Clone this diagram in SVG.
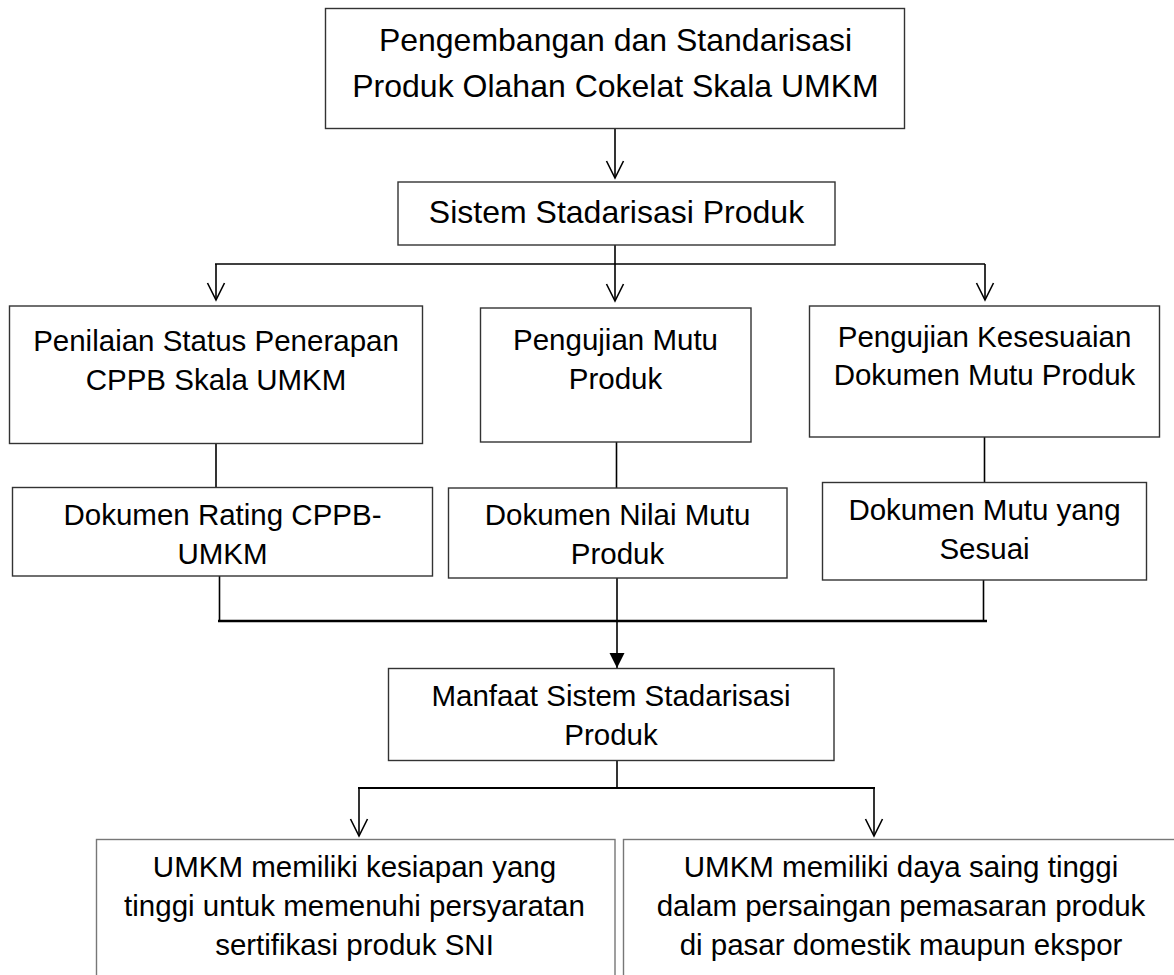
<svg xmlns="http://www.w3.org/2000/svg" width="1174" height="975" viewBox="0 0 1174 975">
<style>
.box{fill:#fff;stroke:#333;stroke-width:1.4}
.box2{fill:#fff;stroke:#777;stroke-width:1.4}
.t{font-family:"Liberation Sans",Arial,sans-serif;fill:#000;text-anchor:middle}
.big{font-size:32px}
.mid{font-size:29.5px}
.ln{fill:none;stroke:#000;stroke-width:1.6}
.thick{fill:none;stroke:#000;stroke-width:2.5}
</style>
<defs>
<marker id="open" markerUnits="userSpaceOnUse" orient="auto" refX="0" refY="0" markerWidth="40" markerHeight="40" overflow="visible">
<path d="M-17,-8.5 L0,0 L-17,8.5" fill="none" stroke="#000" stroke-width="1.6"/>
</marker>
<marker id="fill" markerUnits="userSpaceOnUse" orient="auto" refX="0" refY="0" markerWidth="40" markerHeight="40" overflow="visible">
<path d="M-15,-7.5 L0,0 L-15,7.5 Z" fill="#000" stroke="none"/>
</marker>
</defs>
<rect width="1174" height="975" fill="#fff"/>
<g id="connectors">
<line class="ln" x1="615" y1="128" x2="615" y2="178" marker-end="url(#open)"/>
<line class="ln" x1="615" y1="245" x2="615" y2="264"/>
<line class="ln" x1="215" y1="264" x2="985" y2="264"/>
<line class="ln" x1="216" y1="264" x2="216" y2="300" marker-end="url(#open)"/>
<line class="ln" x1="615" y1="264" x2="615" y2="301" marker-end="url(#open)"/>
<line class="ln" x1="985" y1="264" x2="985" y2="300" marker-end="url(#open)"/>
<line class="ln" x1="216" y1="443" x2="216" y2="487"/>
<line class="ln" x1="616.5" y1="442" x2="616.5" y2="488"/>
<line class="ln" x1="984.5" y1="437" x2="984.5" y2="482"/>
<line class="ln" x1="219.5" y1="576" x2="219.5" y2="621"/>
<line class="ln" x1="983.5" y1="580" x2="983.5" y2="621"/>
<line class="thick" x1="218" y1="621" x2="987" y2="621"/>
<line class="ln" x1="617" y1="578" x2="617" y2="668" marker-end="url(#fill)"/>
<line class="ln" x1="617" y1="761" x2="617" y2="788"/>
<line class="thick" x1="358" y1="788" x2="875" y2="788" style="stroke-width:2"/>
<line class="ln" x1="359" y1="788" x2="359" y2="836" marker-end="url(#open)"/>
<line class="ln" x1="874" y1="788" x2="874" y2="836" marker-end="url(#open)"/>
</g>
<g id="n-top">
<rect class="box" x="325.5" y="8.5" width="579" height="120"/>
<text class="t big" x="615.5" y="51">Pengembangan dan Standarisasi</text>
<text class="t big" x="615.5" y="97">Produk Olahan Cokelat Skala UMKM</text>
</g>
<g id="n-sistem">
<rect class="box" x="398" y="182" width="437" height="63"/>
<text class="t big" x="616.5" y="223">Sistem Stadarisasi Produk</text>
</g>
<g id="n-penilaian">
<rect class="box" x="9.5" y="306" width="413" height="137.5"/>
<text class="t mid" x="216" y="351">Penilaian Status Penerapan</text>
<text class="t mid" x="216" y="390">CPPB Skala UMKM</text>
</g>
<g id="n-pengujian-mutu">
<rect class="box" x="480.5" y="308" width="270.5" height="134"/>
<text class="t mid" x="615.5" y="350">Pengujian Mutu</text>
<text class="t mid" x="615.5" y="389">Produk</text>
</g>
<g id="n-kesesuaian">
<rect class="box" x="809.5" y="306" width="350" height="131"/>
<text class="t mid" x="984.5" y="347">Pengujian Kesesuaian</text>
<text class="t mid" x="984.5" y="385">Dokumen Mutu Produk</text>
</g>
<g id="n-rating">
<rect class="box" x="12.5" y="487.5" width="420" height="88.5"/>
<text class="t mid" x="222.5" y="525">Dokumen Rating CPPB-</text>
<text class="t mid" x="222.5" y="563.5">UMKM</text>
</g>
<g id="n-nilai">
<rect class="box" x="448.5" y="488" width="338.5" height="90"/>
<text class="t mid" x="617.5" y="525">Dokumen Nilai Mutu</text>
<text class="t mid" x="617.5" y="563.5">Produk</text>
</g>
<g id="n-sesuai">
<rect class="box" x="822.5" y="482.5" width="324" height="97.5"/>
<text class="t mid" x="984.5" y="519.5">Dokumen Mutu yang</text>
<text class="t mid" x="984.5" y="558.5">Sesuai</text>
</g>
<g id="n-manfaat">
<rect class="box" x="388.5" y="668.5" width="445.5" height="92"/>
<text class="t mid" x="611" y="706">Manfaat Sistem Stadarisasi</text>
<text class="t mid" x="611" y="745">Produk</text>
</g>
<g id="n-kesiapan">
<rect class="box2" x="96.5" y="839.5" width="518.5" height="160"/>
<text class="t mid" x="354.5" y="877">UMKM memiliki kesiapan yang</text>
<text class="t mid" x="354.5" y="916">tinggi untuk memenuhi persyaratan</text>
<text class="t mid" x="354.5" y="954.5">sertifikasi produk SNI</text>
</g>
<g id="n-dayasaing">
<rect class="box2" x="623.5" y="839.5" width="580" height="160"/>
<text class="t mid" x="901" y="877">UMKM memiliki daya saing tinggi</text>
<text class="t mid" x="901" y="916">dalam persaingan pemasaran produk</text>
<text class="t mid" x="901" y="954.5">di pasar domestik maupun ekspor</text>
</g>
</svg>
